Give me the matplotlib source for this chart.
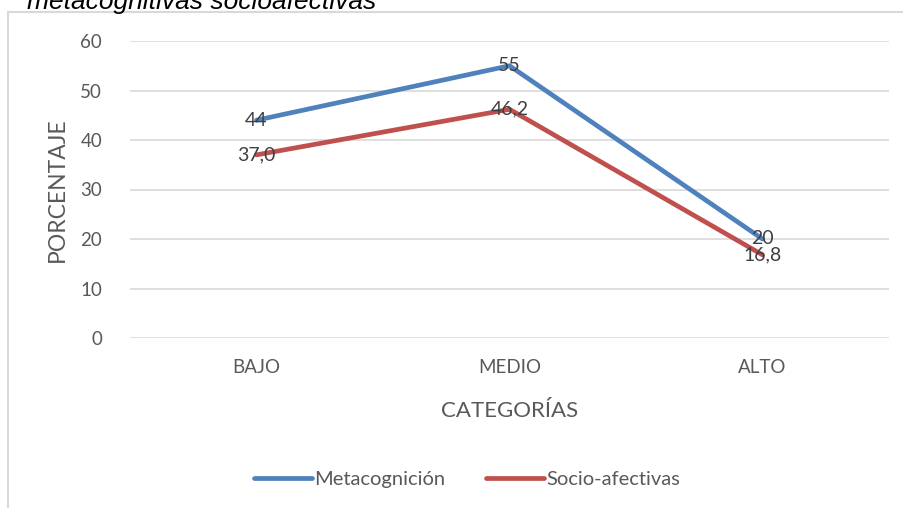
import matplotlib.pyplot as plt
from matplotlib.patches import Rectangle

categorias = ["BAJO", "MEDIO", "ALTO"]
metacognicion = [44, 55, 20]
socio_afectivas = [37.0, 46.2, 16.8]
etiquetas_meta = ["44", "55", "20"]
etiquetas_socio = ["37,0", "46,2", "16,8"]

plt.rcParams['font.family'] = ['Lato', 'DejaVu Sans']

W, H = 904, 508
fig = plt.figure(figsize=(W / 100, H / 100), dpi=100)

# outer chart frame (only top/left visible in the crop)
fig.patches.append(Rectangle((8 / W, -0.1), 1.0, 1 - 12 / H + 0.1, transform=fig.transFigure,
                             fill=False, edgecolor="#D9D9D9", linewidth=1.5))

# cut-off caption at the top
fig.text(27 / W, 1 - 9 / H, "metacognitivas socioafectivas", fontsize=19, style="italic",
         family="Liberation Sans", color="#000000", va="baseline", ha="left")

ax = fig.add_axes([130 / W, 1 - 338 / H, (889 - 130) / W, (338 - 41) / H])
x = range(len(categorias))
ax.plot(x, metacognicion, color="#4F81BD", linewidth=3.4, label="Metacognición", solid_capstyle="round")
ax.plot(x, socio_afectivas, color="#C0504D", linewidth=3.4, label="Socio-afectivas", solid_capstyle="round")

for i, t in enumerate(etiquetas_meta):
    ax.text(i, metacognicion[i], t, ha="center", va="center", fontsize=14, color="#404040")
for i, t in enumerate(etiquetas_socio):
    ax.text(i, socio_afectivas[i], t, ha="center", va="center", fontsize=14, color="#404040")

ax.set_xlim(-0.5, 2.5)
ax.set_ylim(0, 60)
ax.set_yticks(range(0, 61, 10))
ax.set_xticks(list(x))
ax.set_xticklabels(categorias)
ax.grid(axis="y", color="#D9D9D9", linewidth=1.2)
ax.set_axisbelow(True)
for s in ax.spines.values():
    s.set_visible(False)
ax.tick_params(length=0, colors="#595959", labelsize=13.5)
ax.tick_params(axis="y", pad=20)
ax.tick_params(axis="x", pad=15)
ax.set_xlabel("CATEGORÍAS", fontsize=16, color="#595959", labelpad=18)
ax.set_ylabel("PORCENTAJE", fontsize=16.5, color="#595959", labelpad=9)

ax.legend(loc="center", bbox_to_anchor=(467 / W, 1 - 479 / H), bbox_transform=fig.transFigure,
          ncol=2, frameon=False, fontsize=14.5, handlelength=2.9, columnspacing=2.0,
          handletextpad=0.1, labelcolor="#595959")

fig.savefig("out.png", dpi=100)
plt.close()
